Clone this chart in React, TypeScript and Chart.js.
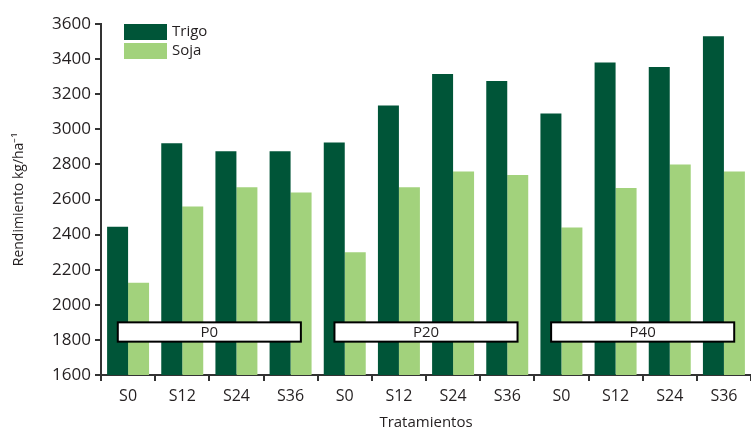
import React, { useEffect, useRef } from "react";
import { Chart, registerables } from "chart.js";

Chart.register(...registerables);

const categories = ["S0", "S12", "S24", "S36", "S0", "S12", "S24", "S36", "S0", "S12", "S24", "S36"];
const trigo = [2445, 2920, 2875, 2875, 2925, 3135, 3315, 3275, 3090, 3380, 3355, 3530];
const soja = [2125, 2560, 2670, 2640, 2300, 2670, 2760, 2740, 2440, 2665, 2800, 2760];
const groupLabels = ["P0", "P20", "P40"];
const groupFirst = [0, 4, 8];
const groupLast = [3, 7, 11];
const seriesNames = ["Trigo", "Soja"];
const yMin = 1600;
const yMax = 3600;
const yStep = 200;

const FONT = "'Open Sans', 'Liberation Sans', sans-serif";
const TXT = "#231f20";

const overlayPlugin = {
  id: "overlay",
  afterDatasetsDraw(chart: any) {
    const { ctx, scales, chartArea } = chart;
    const x = scales.x;
    const y = scales.y;
    const catW = x.getPixelForValue(1) - x.getPixelForValue(0);
    ctx.save();
    const yTop = y.getPixelForValue(1900);
    const yBot = y.getPixelForValue(1790);
    for (let i = 0; i < groupLabels.length; i++) {
      const l = x.getPixelForValue(groupFirst[i]) - catW * 0.19;
      const r = x.getPixelForValue(groupLast[i]) + catW * 0.19;
      ctx.fillStyle = "#ffffff";
      ctx.fillRect(l, yTop, r - l, yBot - yTop);
      ctx.strokeStyle = "#000000";
      ctx.lineWidth = 2;
      ctx.strokeRect(l, yTop, r - l, yBot - yTop);
      ctx.fillStyle = TXT;
      ctx.font = `15px ${FONT}`;
      ctx.textAlign = "center";
      ctx.textBaseline = "middle";
      ctx.fillText(groupLabels[i], (l + r) / 2, (yTop + yBot) / 2 + 1);
    }
    const ds = chart.data.datasets;
    const lx = chartArea.left + 23;
    let ly = chartArea.top;
    for (let i = 0; i < ds.length; i++) {
      ctx.fillStyle = ds[i].backgroundColor;
      ctx.fillRect(lx, ly, 43, 16);
      ctx.fillStyle = TXT;
      ctx.font = `15px ${FONT}`;
      ctx.textAlign = "left";
      ctx.textBaseline = "middle";
      ctx.fillText(ds[i].label, lx + 48, ly + 8);
      ly += 19;
    }
    ctx.restore();
  },
};

export default function App() {
  const ref = useRef<HTMLCanvasElement | null>(null);
  useEffect(() => {
    document.body.style.margin = "0";
    const canvas = ref.current!;
    const chart = new Chart(canvas, {
      type: "bar",
      data: {
        labels: categories,
        datasets: [
          { label: seriesNames[0], data: trigo, backgroundColor: "#005538", categoryPercentage: 0.775, barPercentage: 1 },
          { label: seriesNames[1], data: soja, backgroundColor: "#a2d27c", categoryPercentage: 0.775, barPercentage: 1 },
        ],
      },
      options: {
        animation: false,
        responsive: true,
        maintainAspectRatio: false,
        layout: { padding: { top: 24, right: 0, left: 0, bottom: 0 } },
        plugins: { legend: { display: false }, tooltip: { enabled: false } },
        scales: {
          x: {
            grid: { display: true, drawOnChartArea: false, offset: true, tickLength: 6, color: "#333", lineWidth: 2 },
            border: { display: true, color: "#333", width: 2 },
            ticks: { color: TXT, font: { family: FONT, size: 16 }, padding: 6 },
            title: { display: true, text: "Tratamientos", color: TXT, font: { family: FONT, size: 15 }, padding: { top: 4, bottom: 0 } },
            afterFit: (s: any) => { s.height = 57; },
          },
          y: {
            min: yMin,
            max: yMax,
            ticks: { stepSize: yStep, color: TXT, font: { family: FONT, size: 17 }, padding: 4, callback: (v: any) => String(v) },
            grid: { display: true, drawOnChartArea: false, tickLength: 6, color: "#333", lineWidth: 2 },
            border: { display: true, color: "#333", width: 2 },
            title: { display: true, text: "Rendimiento kg/ha⁻¹", color: TXT, font: { family: FONT, size: 14 }, padding: { top: 11, bottom: 0 } },
            afterFit: (s: any) => { s.width = 101; },
          },
        },
      },
      plugins: [overlayPlugin],
    });
    return () => chart.destroy();
  }, []);
  return (
    <div style={{ position: "relative", width: 751, height: 432 }}>
      <canvas ref={ref} />
    </div>
  );
}
